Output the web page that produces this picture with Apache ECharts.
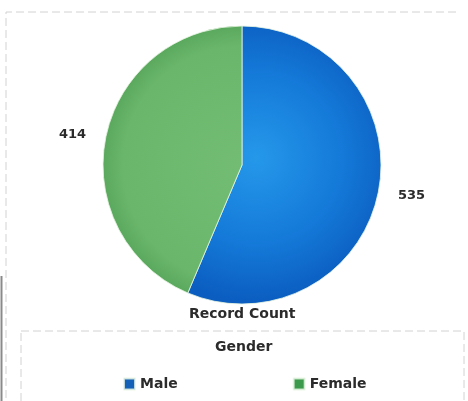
<!DOCTYPE html>
<html>
<head>
<meta charset="utf-8">
<script src="https://cdn.jsdelivr.net/npm/echarts@6/dist/echarts.min.js"></script>
<style>
html,body{margin:0;padding:0;background:#fff;}
#chart{width:468px;height:401px;}
</style>
</head>
<body>
<div id="chart"></div>
<script>
var categories = ['Male', 'Female'];
var counts = [535, 414];
var seriesName = 'Record Count';
var legendTitle = 'Gender';

var sliceColors = [
  {type:'radial', x:256, y:158, r:145, global:true,
   colorStops:[{offset:0,color:'#2598ea'},{offset:0.6,color:'#1479d8'},{offset:1,color:'#0b5dc0'}]},
  {type:'radial', x:242, y:165, r:140, global:true,
   colorStops:[{offset:0,color:'#72bd73'},{offset:0.85,color:'#6ab76c'},{offset:1,color:'#5aa85d'}]}
];
var legendColors = ['#1560b8', '#3c9a4c'];
var fontFam = '"DejaVu Sans", sans-serif';
var textColor = '#2b2b2b';

var chart = echarts.init(document.getElementById('chart'), null, {renderer:'canvas'});

var pieData = categories.map(function(c, i){
  return {name:c, value:counts[i], itemStyle:{color:sliceColors[i]}};
});

chart.setOption({
  animation:false,
  backgroundColor:'#fff',
  title:[
    {text:seriesName, left:189, top:307, padding:0,
     textStyle:{fontFamily:fontFam, fontSize:14, fontWeight:'bold', color:textColor}},
    {text:legendTitle, left:215, top:340, padding:0,
     textStyle:{fontFamily:fontFam, fontSize:14, fontWeight:'bold', color:textColor}}
  ],
  legend:{
    left:123, top:377, padding:0, itemGap:115, itemWidth:11, itemHeight:11,
    icon:'rect', selectedMode:false,
    data:categories.map(function(c,i){return {name:c, itemStyle:{color:legendColors[i]}};}),
    textStyle:{fontFamily:fontFam, fontSize:14, fontWeight:'bold', color:textColor}
  },
  graphic:[
    {type:'polyline', shape:{points:[[6,410],[6,12],[459,12]]},
     style:{stroke:'#d2d2d2', lineWidth:1, lineDash:[8,4], fill:null}, silent:true},
    {type:'rect', shape:{x:21, y:331, width:443, height:90},
     style:{stroke:'#d2d2d2', lineWidth:1, lineDash:[8,4], fill:null}, silent:true},
    {type:'line', shape:{x1:1.5, y1:276, x2:1.5, y2:401},
     style:{stroke:'#8a8a8a', lineWidth:2}, silent:true}
  ],
  series:[{
    type:'pie',
    name:seriesName,
    center:[242,165],
    radius:139,
    startAngle:90,
    clockwise:true,
    silent:true,
    itemStyle:{borderColor:'rgba(230,245,225,0.8)', borderWidth:1},
    label:{show:true, position:'outside', formatter:'{c}',
      fontFamily:fontFam, fontSize:13, fontWeight:'bold', color:textColor},
    labelLine:{show:false, length:15, length2:0},
    data:pieData
  }]
});
</script>
</body>
</html>
